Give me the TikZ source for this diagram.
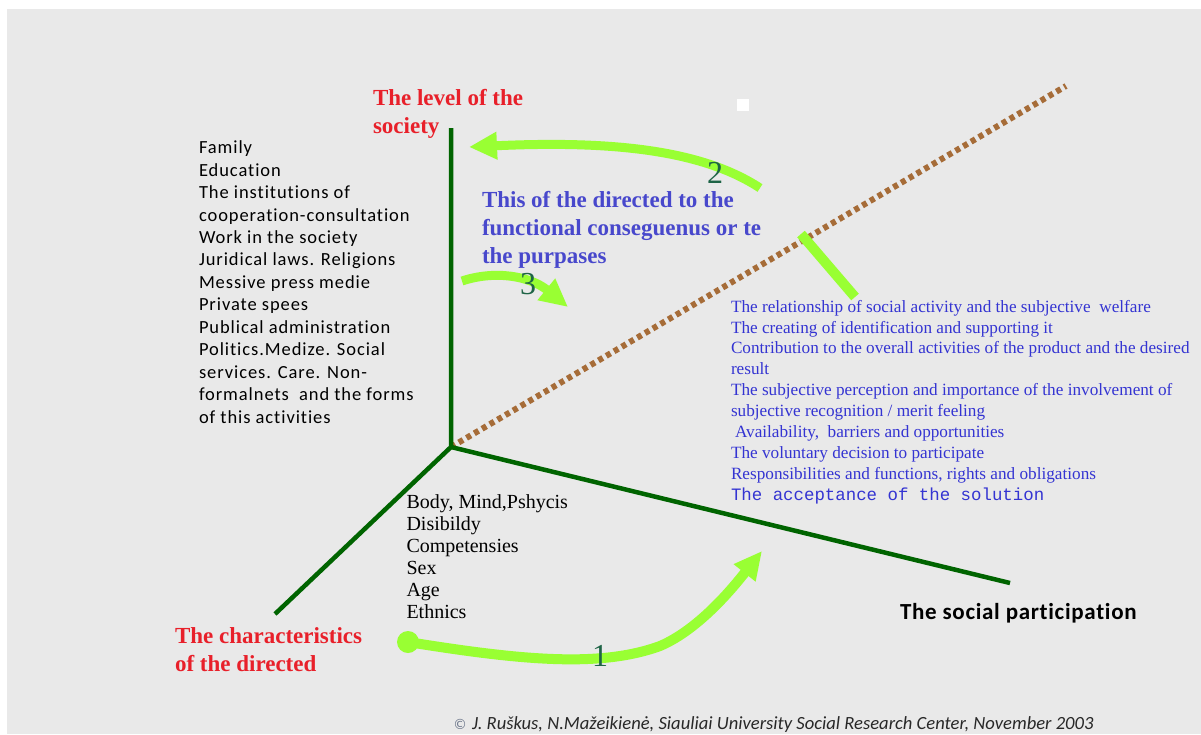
\documentclass[tikz,border=0pt]{standalone}
\usepackage{fontspec}
\setmainfont{Liberation Serif}
\newfontfamily\carl[LetterSpace=5,Ligatures=NoCommon]{Carlito}
\newfontfamily\carlb[LetterSpace=3,Ligatures=NoCommon]{Carlito}
\newfontfamily\carlplain[Ligatures=NoCommon]{Carlito}
\newfontfamily\monof{Liberation Mono}
\newfontfamily\dejavu{DejaVu Sans}
\usetikzlibrary{arrows.meta}
\definecolor{bggray}{RGB}{233,233,233}
\definecolor{axisgreen}{RGB}{0,100,0}
\definecolor{lgreen}{RGB}{153,255,51}
\definecolor{dotbrown}{RGB}{166,108,56}
\definecolor{lblred}{RGB}{232,32,42}
\definecolor{bbold}{RGB}{72,72,204}
\definecolor{blist}{RGB}{52,52,210}
\definecolor{numgreen}{RGB}{30,100,70}
\definecolor{footgray}{RGB}{40,40,40}
\definecolor{copygray}{RGB}{110,120,140}
\tikzset{
  axisline/.style={draw=axisgreen, line width=4.5pt, line join=miter},
  dotaxis/.style={draw=dotbrown, line width=6pt, dash pattern=on 5pt off 4pt},
  garrow/.style={draw=lgreen, line width=9pt, -{Triangle[length=28pt,width=26pt]}},
  gline/.style={draw=lgreen, line width=10pt},
  txt/.style={inner sep=0pt, outer sep=0pt, align=left},
  redlbl/.style={txt, text=lblred, font={\fontsize{23}{28}\selectfont\bfseries}},
  numlbl/.style={inner sep=0pt, text=numgreen, font={\fontsize{32}{32}\selectfont}},
}
\begin{document}
\begin{tikzpicture}[x=1pt,y=-1pt]
\path[use as bounding box] (0,0) rectangle (1201,734);
\fill[white] (0,0) rectangle (1201,734);
\fill[bggray] (7,9) rectangle (1201,734);

% axes
\coordinate (O) at (451,447);
\coordinate (Vtop) at (451,128);
\coordinate (Lend) at (275,614);
\coordinate (Rend) at (1010,583);
\coordinate (Dend) at (1066,86);
\draw[dotaxis] (O) -- (Dend);
\draw[axisline] (Vtop) -- (O) -- (Lend);
\draw[axisline] (O) -- (Rend);

% white square
\node[fill=white, inner sep=0pt, minimum size=12pt] (wsq) at (743,105) {};

% arrow 2
\coordinate (a2s) at (760,188);
\coordinate (a2e) at (469,147);
\draw[garrow] (a2s) .. controls (705,152) and (620,140) .. (a2e);
% arrow 3
\coordinate (a3s) at (462,281);
\coordinate (a3e) at (568,307);
\draw[garrow] (a3s) .. controls (495,270) and (530,276) .. (a3e);
% arrow 1
\node[circle, fill=lgreen, inner sep=0pt, minimum size=22pt] (c1) at (408,642) {};
\coordinate (a1m) at (660,646);
\coordinate (a1e) at (762,551);
\draw[garrow, line width=10pt] (c1.center) .. controls (520,660) and (600,668) .. (a1m)
   .. controls (700,629) and (735,585) .. (a1e);
% tick across dotted axis
\coordinate (t1) at (801,234);
\coordinate (t2) at (855,297);
\draw[gline] (t1) -- (t2);

% numbers
\node[numlbl] (n1) at (600,656) {1};
\node[numlbl] (n2) at (715,173) {2};
\node[numlbl] (n3) at (528,284) {3};

% texts
\node[redlbl, anchor=north west] (soclevel) at (373,89.3) {The level of the\\society};
\node[redlbl, anchor=north west, font={\fontsize{23}{28.5}\selectfont\bfseries}] (charlbl) at (175,627.3) {The characteristics\\of the directed};

\node[txt, anchor=north west, font={\carl\fontsize{18.5}{22.45}\selectfont}] (soclist) at (199,140.8)
{Family\\Education\\The institutions of\\cooperation-consultation\\Work in the society\\Juridical laws. Religions\\Messive press medie\\Private spees\\Publical administration\\Politics.Medize. Social\\services. Care. Non-\\formalnets\ \ and the forms\\of this activities};

\node[txt, anchor=north west, text=bbold, font={\fontsize{23}{28.3}\selectfont\bfseries}] (purp) at (482,191)
{This of the directed to the\\functional conseguenus or te\\the purpases};

\node[txt, anchor=north west, text=blist, font={\fontsize{17.2}{20.9}\selectfont}] (partlist) at (731,300)
{The relationship of social activity and the subjective\ \ welfare\\
The creating of identification and supporting it\\
Contribution to the overall activities of the product and the desired\\
result\\
The subjective perception and importance of the involvement of\\
subjective recognition / merit feeling\\
\hspace*{4pt}Availability,\ \ barriers and opportunities\\
The voluntary decision to participate\\
Responsibilities and functions, rights and obligations\\
{\monof\fontsize{17.4}{20.9}\selectfont The acceptance of the solution}};

\node[txt, anchor=north west, font={\fontsize{20}{22.06}\selectfont}] (dirlist) at (406.5,494.3)
{Body, Mind,Pshycis\\Disibildy\\Competensies\\Sex\\Age\\Ethnics};

\node[txt, anchor=base west, font={\carlb\fontsize{23}{28}\selectfont\bfseries}] (socpart) at (900,619.3) {The social participation};

\node[txt, anchor=base west, text=copygray, font={\dejavu\fontsize{14}{14}\selectfont}] (copy) at (453,729) {©};
\node[txt, anchor=base west, text=footgray, font={\carlplain\fontsize{18.6}{18.6}\selectfont\itshape}] (foot) at (472,729)
{J. Ruškus, N.Mažeikienė, Siauliai University Social Research Center, November 2003};
\end{tikzpicture}
\end{document}
